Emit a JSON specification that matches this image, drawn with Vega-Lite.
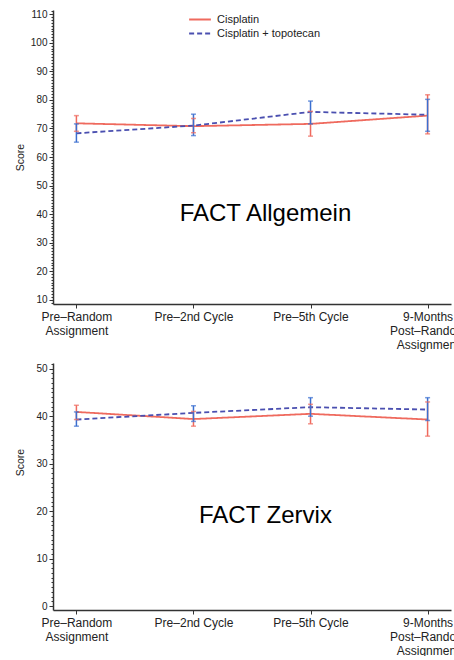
{
  "$schema": "https://vega.github.io/schema/vega-lite/v6.json",
  "padding": {"left": 15, "top": 6, "right": 0, "bottom": 0},
  "background": "white",
  "spacing": 8,
  "datasets": {
    "allg": [
      {"time": "Pre–Random Assignment", "group": "Cisplatin", "mean": 71.8, "lo": 69, "hi": 74.5},
      {"time": "Pre–2nd Cycle", "group": "Cisplatin", "mean": 70.8, "lo": 68.5, "hi": 73.5},
      {"time": "Pre–5th Cycle", "group": "Cisplatin", "mean": 71.6, "lo": 67.3, "hi": 76},
      {"time": "9-Months Post–Random Assignment", "group": "Cisplatin", "mean": 74.5, "lo": 68.1, "hi": 81.8},
      {"time": "Pre–Random Assignment", "group": "Cisplatin + topotecan", "mean": 68.3, "lo": 65.2, "hi": 71.6},
      {"time": "Pre–2nd Cycle", "group": "Cisplatin + topotecan", "mean": 71, "lo": 67.5, "hi": 75},
      {"time": "Pre–5th Cycle", "group": "Cisplatin + topotecan", "mean": 75.8, "lo": 71.6, "hi": 79.6},
      {"time": "9-Months Post–Random Assignment", "group": "Cisplatin + topotecan", "mean": 74.8, "lo": 69, "hi": 80.2}
    ],
    "zerv": [
      {"time": "Pre–Random Assignment", "group": "Cisplatin", "mean": 40.9, "lo": 39.3, "hi": 42.3},
      {"time": "Pre–2nd Cycle", "group": "Cisplatin", "mean": 39.4, "lo": 37.9, "hi": 41},
      {"time": "Pre–5th Cycle", "group": "Cisplatin", "mean": 40.5, "lo": 38.4, "hi": 42.5},
      {"time": "9-Months Post–Random Assignment", "group": "Cisplatin", "mean": 39.3, "lo": 35.8, "hi": 43},
      {"time": "Pre–Random Assignment", "group": "Cisplatin + topotecan", "mean": 39.3, "lo": 37.9, "hi": 40.9},
      {"time": "Pre–2nd Cycle", "group": "Cisplatin + topotecan", "mean": 40.7, "lo": 38.9, "hi": 42.2},
      {"time": "Pre–5th Cycle", "group": "Cisplatin + topotecan", "mean": 41.9, "lo": 40, "hi": 43.9},
      {"time": "9-Months Post–Random Assignment", "group": "Cisplatin + topotecan", "mean": 41.4, "lo": 39.1, "hi": 43.9}
    ],
    "t1": [{"label": "FACT Allgemein"}],
    "t2": [{"label": "FACT Zervix"}]
  },
  "vconcat": [
    {
      "width": 398,
      "height": 294,
      "encoding": {
        "x": {"field": "time", "type": "ordinal", "sort": null, "title": null,
          "scale": {"type": "point", "padding": 0.2, "domain": ["Pre–Random Assignment", "Pre–2nd Cycle", "Pre–5th Cycle", "9-Months Post–Random Assignment"]},
          "axis": {"labelAngle": 0, "tickSize": 4, "labelPadding": 3, "labelFontSize": 12, "labelLineHeight": 14, "labelBaseline": "top", "labelFont": "Liberation Sans", "labelColor": "#222",
            "labelExpr": "datum.value == 'Pre–Random Assignment' ? ['Pre–Random', 'Assignment'] : datum.value == '9-Months Post–Random Assignment' ? ['9-Months', 'Post–Random', 'Assignment'] : datum.value"}}
      },
      "layer": [
        {
          "data": {"name": "allg"},
          "mark": {"type": "line", "strokeWidth": 1.8},
          "encoding": {
            "y": {"field": "mean", "type": "quantitative", "title": "Score",
              "scale": {"domain": [8.5, 111.5], "nice": false, "zero": false},
              "axis": {"tickCount": 103, "labelExpr": "datum.value % 10 == 0 ? datum.label : ''", "labelOverlap": false, "tickSize": {"condition": {"test": "datum.value % 10 == 0", "value": 4}, "value": 2}, "labelPadding": 2, "titleX": -28, "labelFontSize": 10, "titleFontSize": 10.5, "titleFontWeight": "normal", "labelFont": "Liberation Sans", "titleFont": "Liberation Sans", "labelColor": "#222", "titleColor": "#222"}},
            "color": {"field": "group", "type": "nominal", "scale": {"domain": ["Cisplatin", "Cisplatin + topotecan"], "range": ["#ef6a5e", "#4a4fb0"]},
              "legend": {"title": null, "orient": "none", "legendX": 138.5, "legendY": 1, "symbolType": "M-1.45,0H1.45", "symbolSize": 225, "symbolStrokeWidth": 1.8, "labelFontSize": 11, "labelColor": "#222", "labelFont": "Liberation Sans", "labelOffset": 8.5, "rowPadding": 0}},
            "strokeDash": {"field": "group", "type": "nominal", "scale": {"domain": ["Cisplatin", "Cisplatin + topotecan"], "range": [[1, 0], [5, 3]]},
              "legend": {"title": null, "orient": "none", "legendX": 138.5, "legendY": 1, "symbolType": "M-1.45,0H1.45", "symbolSize": 225, "symbolStrokeWidth": 1.8, "labelFontSize": 11, "labelColor": "#222", "labelFont": "Liberation Sans", "labelOffset": 8.5, "rowPadding": 0}}
          }
        },
        {
          "data": {"name": "allg"},
          "mark": {"type": "rule", "strokeWidth": 1.5},
          "encoding": {
            "y": {"field": "lo", "type": "quantitative", "title": "Score"},
            "y2": {"field": "hi"},
            "color": {"condition": {"test": "datum.group == 'Cisplatin'", "value": "#ef6a5e"}, "value": "#3b6fd0"}
          }
        },
        {
          "data": {"name": "allg"},
          "mark": {"type": "tick", "size": 5, "thickness": 1.5},
          "encoding": {
            "y": {"field": "lo", "type": "quantitative", "title": "Score"},
            "color": {"condition": {"test": "datum.group == 'Cisplatin'", "value": "#ef6a5e"}, "value": "#3b6fd0"}
          }
        },
        {
          "data": {"name": "allg"},
          "mark": {"type": "tick", "size": 5, "thickness": 1.5},
          "encoding": {
            "y": {"field": "hi", "type": "quantitative", "title": "Score"},
            "color": {"condition": {"test": "datum.group == 'Cisplatin'", "value": "#ef6a5e"}, "value": "#3b6fd0"}
          }
        },
        {
          "data": {"name": "t1"},
          "mark": {"type": "text", "fontSize": 24, "font": "Liberation Sans", "color": "#000", "dx": 72, "baseline": "middle"},
          "encoding": {
            "x": {"datum": "Pre–2nd Cycle", "type": "ordinal"},
            "y": {"datum": 40, "type": "quantitative"},
            "text": {"field": "label"}
          }
        }
      ]
    },
    {
      "width": 398,
      "height": 247,
      "encoding": {
        "x": {"field": "time", "type": "ordinal", "sort": null, "title": null,
          "scale": {"type": "point", "padding": 0.2, "domain": ["Pre–Random Assignment", "Pre–2nd Cycle", "Pre–5th Cycle", "9-Months Post–Random Assignment"]},
          "axis": {"labelAngle": 0, "tickSize": 4, "labelPadding": 3, "labelFontSize": 12, "labelLineHeight": 14, "labelBaseline": "top", "labelFont": "Liberation Sans", "labelColor": "#222",
            "labelExpr": "datum.value == 'Pre–Random Assignment' ? ['Pre–Random', 'Assignment'] : datum.value == '9-Months Post–Random Assignment' ? ['9-Months', 'Post–Random', 'Assignment'] : datum.value"}}
      },
      "layer": [
        {
          "data": {"name": "zerv"},
          "mark": {"type": "line", "strokeWidth": 1.8},
          "encoding": {
            "y": {"field": "mean", "type": "quantitative", "title": "Score",
              "scale": {"domain": [-0.8, 51.2], "nice": false, "zero": false},
              "axis": {"tickCount": 52, "labelExpr": "datum.value % 10 == 0 ? datum.label : ''", "labelOverlap": false, "tickSize": {"condition": {"test": "datum.value % 10 == 0", "value": 4}, "value": 2}, "labelPadding": 2, "titleX": -28, "titleY": 99, "labelFontSize": 10, "titleFontSize": 10.5, "titleFontWeight": "normal", "labelFont": "Liberation Sans", "titleFont": "Liberation Sans", "labelColor": "#222", "titleColor": "#222"}},
            "color": {"field": "group", "type": "nominal", "scale": {"domain": ["Cisplatin", "Cisplatin + topotecan"], "range": ["#ef6a5e", "#4a4fb0"]}, "legend": null},
            "strokeDash": {"field": "group", "type": "nominal", "scale": {"domain": ["Cisplatin", "Cisplatin + topotecan"], "range": [[1, 0], [5, 3]]}, "legend": null}
          }
        },
        {
          "data": {"name": "zerv"},
          "mark": {"type": "rule", "strokeWidth": 1.5},
          "encoding": {
            "y": {"field": "lo", "type": "quantitative", "title": "Score"},
            "y2": {"field": "hi"},
            "color": {"condition": {"test": "datum.group == 'Cisplatin'", "value": "#ef6a5e"}, "value": "#3b6fd0"}
          }
        },
        {
          "data": {"name": "zerv"},
          "mark": {"type": "tick", "size": 5, "thickness": 1.5},
          "encoding": {
            "y": {"field": "lo", "type": "quantitative", "title": "Score"},
            "color": {"condition": {"test": "datum.group == 'Cisplatin'", "value": "#ef6a5e"}, "value": "#3b6fd0"}
          }
        },
        {
          "data": {"name": "zerv"},
          "mark": {"type": "tick", "size": 5, "thickness": 1.5},
          "encoding": {
            "y": {"field": "hi", "type": "quantitative", "title": "Score"},
            "color": {"condition": {"test": "datum.group == 'Cisplatin'", "value": "#ef6a5e"}, "value": "#3b6fd0"}
          }
        },
        {
          "data": {"name": "t2"},
          "mark": {"type": "text", "fontSize": 24, "font": "Liberation Sans", "color": "#000", "dx": 72, "baseline": "middle"},
          "encoding": {
            "x": {"datum": "Pre–2nd Cycle", "type": "ordinal"},
            "y": {"datum": 19, "type": "quantitative"},
            "text": {"field": "label"}
          }
        }
      ]
    }
  ],
  "config": {
    "view": {"stroke": null},
    "axis": {"grid": false, "domainColor": "#333", "domainWidth": 1.5, "tickColor": "#333", "tickWidth": 1}
  }
}
